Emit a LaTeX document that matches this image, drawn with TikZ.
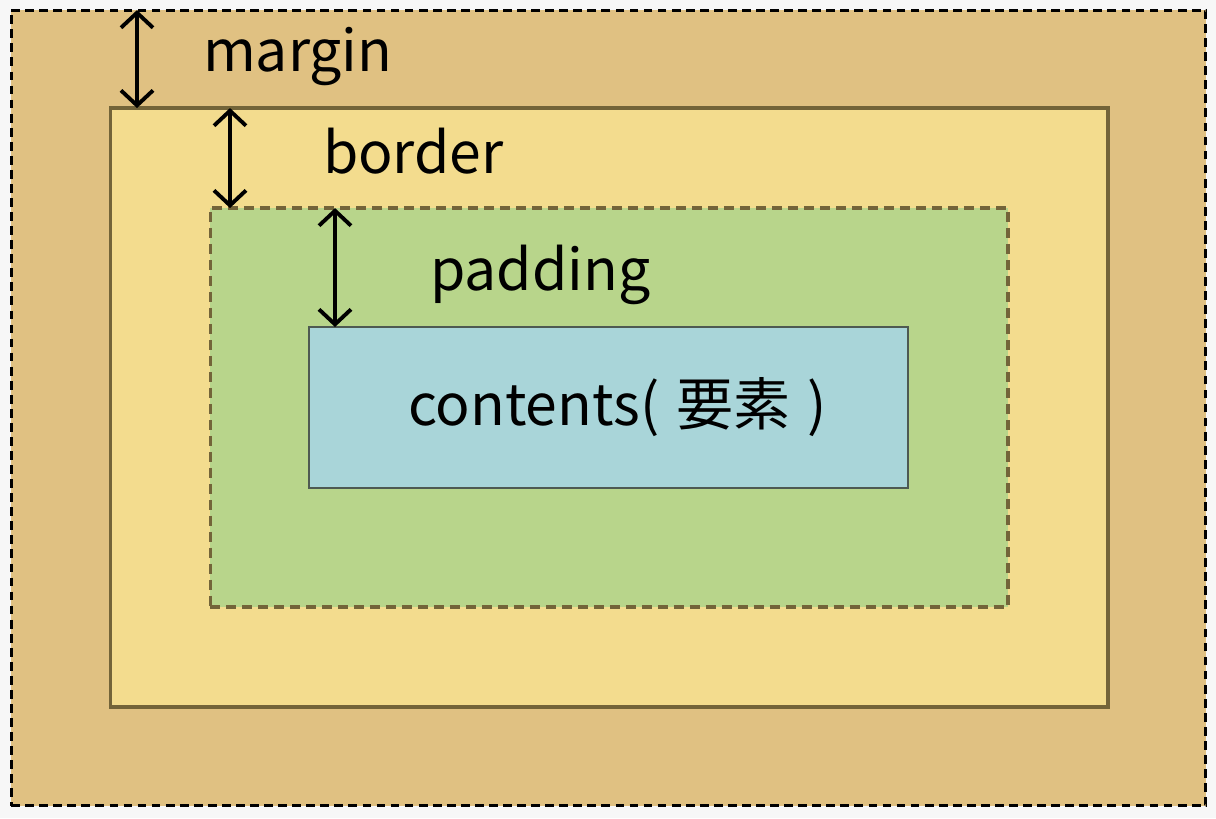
\documentclass[tikz,border=0pt]{standalone}
\usepackage{fontspec}
\setmainfont{Noto Sans CJK JP}
\usetikzlibrary{arrows.meta}
\definecolor{marginfill}{HTML}{E0C182}
\definecolor{borderfill}{HTML}{F3DC8E}
\definecolor{paddingfill}{HTML}{B8D58B}
\definecolor{contentfill}{HTML}{A9D5D9}
\definecolor{olive}{HTML}{736439}
\definecolor{contentline}{HTML}{4E5A52}
\begin{document}
\begin{tikzpicture}[x=0.02cm, y=-0.02cm,
    every node/.style={inner sep=0pt, outer sep=0pt},
    box/.style={draw, rectangle},
    boxtext/.style={anchor=base west, font=\fontsize{32.5}{38}\selectfont},
    dimarrow/.style={{Straight Barb[length=0.3cm, width=0.64cm]}-{Straight Barb[length=0.3cm, width=0.64cm]}, line width=2.2pt}]
            \useasboundingbox[fill=gray!6] (0,0) rectangle (1216,818);
            \node[box, fill=marginfill, draw=black, line width=1.7pt, dash pattern=on 5pt off 3pt,
                  minimum width=23.9cm, minimum height=15.92cm] (margin) at (608.5,408) {};
            \node[box, fill=borderfill, draw=olive, line width=1.8pt,
                  minimum width=19.96cm, minimum height=11.98cm] (border) at (609,407.5) {};
            \node[box, fill=paddingfill, draw=olive, line width=1.8pt, dash pattern=on 5.7pt off 3.4pt,
                  minimum width=15.96cm, minimum height=7.98cm] (padding) at (609,407.5) {};
            \node[box, fill=contentfill, draw=contentline, line width=1.5pt,
                  minimum width=11.98cm, minimum height=3.22cm] (content) at (608.5,407.5) {};
            \node[boxtext] (marginlabel) at (203,71) {margin};
            \node[boxtext] (borderlabel) at (323,173) {border};
            \node[boxtext] (paddinglabel) at (430,290) {padding};
            \node[boxtext] (contentlabel) at (408,425) {contents(\hspace{0.3em}要素\hspace{0.3em})};
            \coordinate (m) at (137,0);
            \coordinate (b) at (230,0);
            \coordinate (p) at (335,0);
            \draw[dimarrow] (m |- margin.north) -- (m |- border.north);
            \draw[dimarrow] (b |- border.north) -- (b |- padding.north);
            \draw[dimarrow] (p |- padding.north) -- (p |- content.north);
        \end{tikzpicture}
\end{document}
